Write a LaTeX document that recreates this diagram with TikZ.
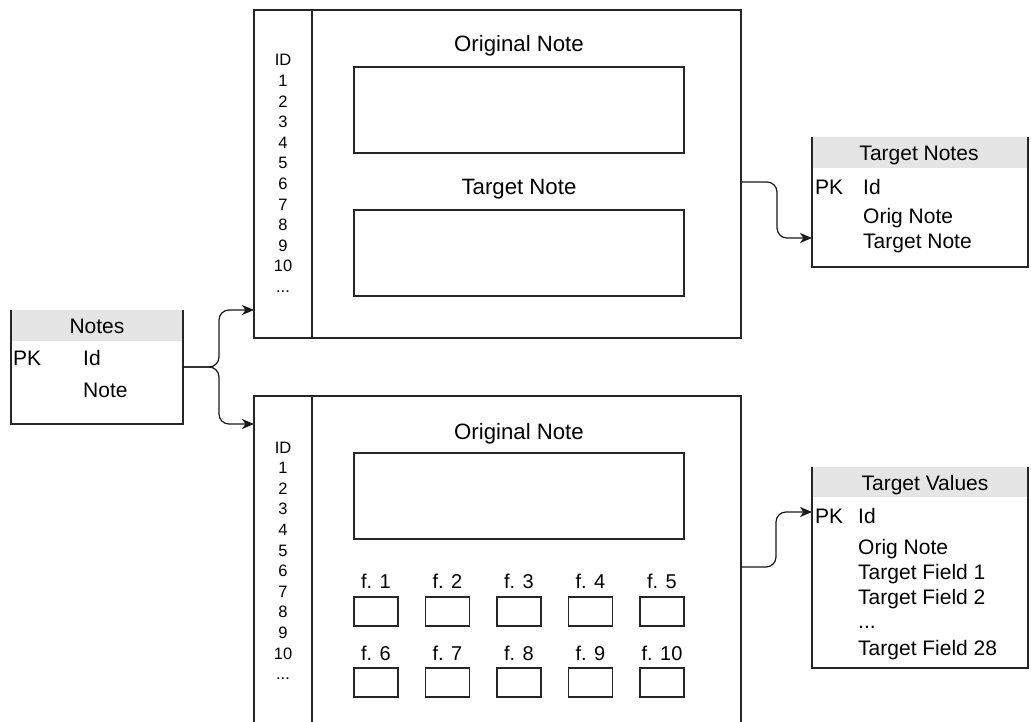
\documentclass[tikz,border=0pt]{standalone}
\usepackage{fontspec}
\setmainfont{Liberation Sans}
\usetikzlibrary{arrows.meta,calc}
\tikzset{
  line/.style={draw=black!85, line width=1.2pt},
  box/.style={line, rectangle, inner sep=0pt, outer sep=0pt},
  hdr/.style={fill=black!10, draw=none},
  conn/.style={draw=black!90, line width=1.2pt, rounded corners=10pt, -{Stealth[length=12pt,width=10pt,inset=3.5pt]}},
  txt/.style={font=\fontsize{21}{25}\selectfont, inner sep=0pt, anchor=base},
  ttl/.style={font=\fontsize{22.2}{26}\selectfont, inner sep=0pt, anchor=base},
  txtw/.style={txt, anchor=base west},
  idtxt/.style={font=\fontsize{16.5}{20}\selectfont, inner sep=0pt, anchor=base},
  ftxt/.style={font=\fontsize{20}{24}\selectfont, inner sep=0pt, anchor=base},
}
\begin{document}
\begin{tikzpicture}[x=1pt,y=-1pt]
\clip (0,0) rectangle (1031,722);
\fill[white] (0,0) rectangle (1031,722);

% ---------- Notes table ----------
\fill[hdr] (11,310) rectangle (183,341);
\node[minimum width=172pt, minimum height=114pt, inner sep=0pt, outer sep=0pt] (notes) at (97,367) {};
\draw[line] (notes.north west) -- (notes.south west) -- (notes.south east) -- (notes.north east);
\node[txt] (notesT) at (97,333) {Notes};
\node[txtw] (notesPK) at (13,365) {PK};
\node[txtw] (notesId) at (83,365) {Id};
\node[txtw] (notesNote) at (83,397) {Note};

% ---------- Top big box ----------
\node[box, minimum width=487pt, minimum height=328pt] (topbox) at (497.5,174) {};
\draw[line] (312,10) -- (312,338);
\node[ttl] (topOrigL) at (519,52) {Original Note};
\node[box, minimum width=330pt, minimum height=86pt] (topOrig) at (519,110) {};
\node[ttl] (topTargL) at (519,195) {Target Note};
\node[box, minimum width=330pt, minimum height=86pt] (topTarg) at (519,253) {};
\node[idtxt] (tID) at (283,66) {ID};
\foreach \i in {1,...,10} {
  \node[idtxt] (t\i) at (283,{66+20.6*\i}) {\i};
}
\node[idtxt] (tdots) at (283,{66+20.6*11}) {...};

% ---------- Bottom big box (open at bottom) ----------
\node[box, minimum width=487pt, minimum height=384pt] (botbox) at (497.5,588) {};
\draw[line] (312,396) -- (312,800);
\node[ttl] (botOrigL) at (519,439) {Original Note};
\node[box, minimum width=330pt, minimum height=86pt] (botOrig) at (519,496) {};
\node[idtxt] (bID) at (283,453) {ID};
\foreach \i in {1,...,10} {
  \node[idtxt] (b\i) at (283,{453+20.6*\i}) {\i};
}
\node[idtxt] (bdots) at (283,{453+20.6*11}) {...};
\foreach \i/\x in {1/376,2/447.5,3/519,4/590.5,5/662} {
  \node[ftxt] (fl\i) at (\x,588) {f. \i};
  \node[box, minimum width=44pt, minimum height=29pt] (fb\i) at (\x,611.5) {};
}
\foreach \i/\x in {6/376,7/447.5,8/519,9/590.5,10/662} {
  \node[ftxt] (fl\i) at (\x,660) {f. \i};
  \node[box, minimum width=44pt, minimum height=29pt] (fb\i) at (\x,682.5) {};
}

% ---------- Target Notes table ----------
\fill[hdr] (812,137) rectangle (1028,168);
\node[minimum width=216pt, minimum height=130pt, inner sep=0pt, outer sep=0pt] (tnotes) at (920,202) {};
\draw[line] (tnotes.north west) -- (tnotes.south west) -- (tnotes.south east) -- (tnotes.north east);
\node[txt] (tnT) at (919,161) {Target Notes};
\node[txtw] (tnPK) at (815,195) {PK};
\node[txtw] (tnId) at (863,195) {Id};
\node[txtw] (tnOrig) at (863,224) {Orig Note};
\node[txtw] (tnTarg) at (863,248) {Target Note};

% ---------- Target Values table ----------
\fill[hdr] (812,467) rectangle (1028,497);
\node[minimum width=216pt, minimum height=201pt, inner sep=0pt, outer sep=0pt] (tvalues) at (920,567.5) {};
\draw[line] (tvalues.north west) -- (tvalues.south west) -- (tvalues.south east) -- (tvalues.north east);
\node[txt] (tvT) at (925,490) {Target Values};
\node[txtw] (tvPK) at (815,523) {PK};
\node[txtw] (tvId) at (858,523) {Id};
\node[txtw] (tvOrig) at (858,554) {Orig Note};
\node[txtw] (tvF1) at (858,579) {Target Field 1};
\node[txtw] (tvF2) at (858,604) {Target Field 2};
\node[txtw] (tvDots) at (858,628) {...};
\node[txtw] (tvF28) at (858,655) {Target Field 28};

% ---------- Connectors ----------
\draw[conn] (notes.east) -- ++(36,0) |- ([yshift=28pt]topbox.south west);
\draw[conn] (notes.east) -- ++(36,0) |- ([yshift=-28pt]botbox.north west);
\draw[conn] ([yshift=-8pt]topbox.east) -- ++(36,0) |- ([yshift=-36pt]tnotes.west);
\draw[conn] ([yshift=21pt]botbox.east) -- ++(35,0) |- ([yshift=55.5pt]tvalues.west);
\end{tikzpicture}
\end{document}
